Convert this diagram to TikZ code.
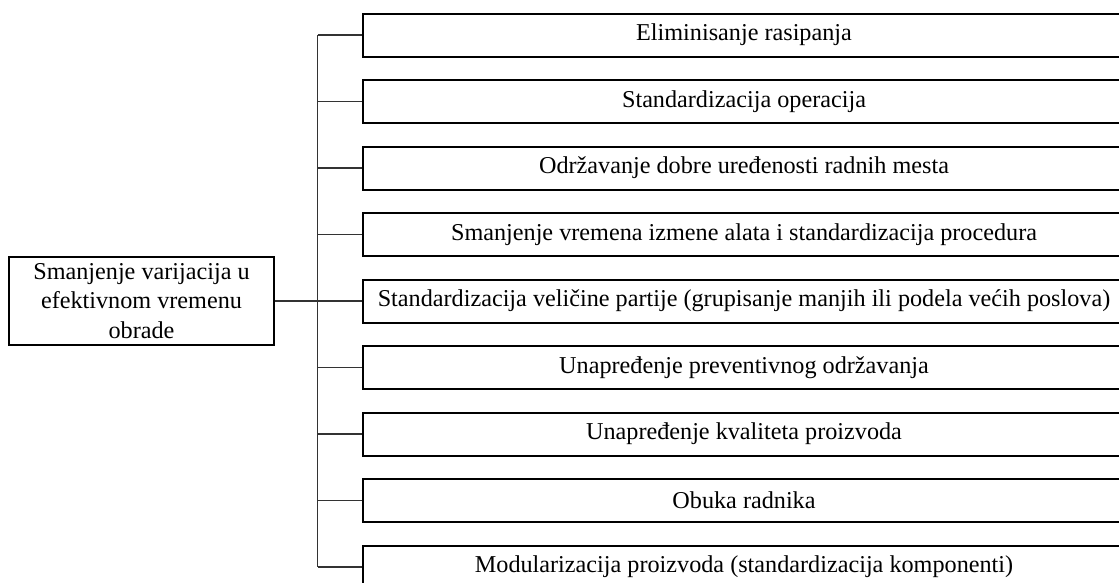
\documentclass[tikz,border=0pt]{standalone}
\usepackage{fontspec}
\setmainfont{Liberation Serif}
\begin{document}
\begin{tikzpicture}[x=1pt,y=-1pt,
  item/.style={draw=black,line width=2pt,rectangle,anchor=west,
    minimum width=762pt,minimum height=43pt,inner sep=0pt,font=\fontsize{24.2}{29}\selectfont},
  rootbox/.style={draw=black,line width=2pt,rectangle,minimum width=265pt,minimum height=88pt,
    inner sep=0pt,align=center,font=\fontsize{24.2}{29.5}\selectfont},
  link/.style={draw=black!80,line width=1.4pt}]
\useasboundingbox (0,0) rectangle (1119,582);
\clip (0,0) rectangle (1119,582);
\node[rootbox] (root) at (141.5,301) {Smanjenje varijacija u\\efektivnom vremenu\\obrade};
\foreach \t [count=\i from 0] in {
  Eliminisanje rasipanja,
  Standardizacija operacija,
  Održavanje dobre uređenosti radnih mesta,
  Smanjenje vremena izmene alata i standardizacija procedura,
  Standardizacija veličine partije (grupisanje manjih ili podela većih poslova),
  Unapređenje preventivnog održavanja,
  Unapređenje kvaliteta proizvoda,
  Obuka radnika,
  Modularizacija proizvoda (standardizacija komponenti)}{
  \node[item] (b\i) at (362,35+66.5*\i) {\t};
  \coordinate (j\i) at (317.5,35+66.5*\i);
  \draw[link] (j\i) -- (b\i.west);
}
\draw[link] (j0) -- (j8);
\draw[link] (root.east) -- (j4);
\end{tikzpicture}
\end{document}
